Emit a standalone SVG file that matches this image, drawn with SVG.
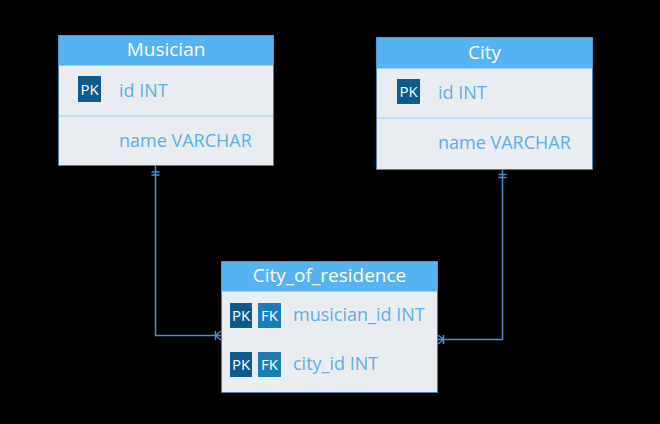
<svg xmlns="http://www.w3.org/2000/svg" width="660" height="424" viewBox="0 0 660 424">
<style>
.body{fill:#e9edf1;stroke:#4a7fae;stroke-width:1}
.hdr{fill:#55b3f4}
.ht{font-family:"Open Sans",sans-serif;font-size:19px;fill:#ffffff;text-anchor:middle}
.ft{font-family:"Open Sans",sans-serif;font-size:18px;fill:#5aaee9}
.div{stroke:#b5d6f0;stroke-width:1.5}
.pk{fill:#0e5a8b}
.fk{fill:#1b7db5}
.bt{font-family:"Open Sans",sans-serif;font-size:15px;fill:#ffffff;text-anchor:middle}
.ln{fill:none;stroke:#4a8fcb;stroke-width:1.5}
</style>
<rect width="660" height="424" fill="#000000"/>
<g id="connectors">
<path class="ln" d="M155.5,166 V335.5 H221"/>
<path class="ln" d="M151.5,172 H159.5 M151.5,175 H159.5"/>
<path class="ln" d="M215.5,331 V340 M215.5,335.5 L221,331 M215.5,335.5 L221,340"/>
<path class="ln" d="M502.5,170 V339.5 H438"/>
<path class="ln" d="M498.5,174.5 H506.5 M498.5,177.5 H506.5"/>
<path class="ln" d="M443.5,335 V344 M443.5,339.5 L438,335 M443.5,339.5 L438,344"/>
</g>
<g id="musician">
<rect class="body" x="58.5" y="35.5" width="215" height="130"/>
<rect class="hdr" x="58.5" y="35.5" width="215" height="30"/>
<line class="div" x1="59" y1="116" x2="273" y2="116"/>
<text class="ht" x="166" y="56">Musician</text>
<rect class="pk" x="78" y="76" width="23" height="26"/>
<text class="bt" x="89.5" y="94.5">PK</text>
<text class="ft" x="119" y="97">id INT</text>
<text class="ft" x="119" y="147">name VARCHAR</text>
</g>
<g id="city">
<rect class="body" x="376.5" y="37.5" width="216" height="132"/>
<rect class="hdr" x="376.5" y="37.5" width="216" height="31"/>
<line class="div" x1="377" y1="118" x2="592" y2="118"/>
<text class="ht" x="484.5" y="58.5">City</text>
<rect class="pk" x="397" y="79" width="23" height="25"/>
<text class="bt" x="408.5" y="97">PK</text>
<text class="ft" x="438" y="99">id INT</text>
<text class="ft" x="438" y="149">name VARCHAR</text>
</g>
<g id="city_of_residence">
<rect class="body" x="221.5" y="261.5" width="216" height="131"/>
<rect class="hdr" x="221.5" y="261.5" width="216" height="30"/>
<text class="ht" x="329.5" y="282">City_of_residence</text>
<rect class="pk" x="230" y="303" width="22" height="25"/>
<text class="bt" x="241" y="321">PK</text>
<rect class="fk" x="258" y="303" width="23" height="25"/>
<text class="bt" x="269.5" y="321">FK</text>
<text class="ft" x="293" y="321">musician_id INT</text>
<rect class="pk" x="230" y="352" width="22" height="25"/>
<text class="bt" x="241" y="370">PK</text>
<rect class="fk" x="258" y="352" width="23" height="25"/>
<text class="bt" x="269.5" y="370">FK</text>
<text class="ft" x="293" y="370">city_id INT</text>
</g>
</svg>
